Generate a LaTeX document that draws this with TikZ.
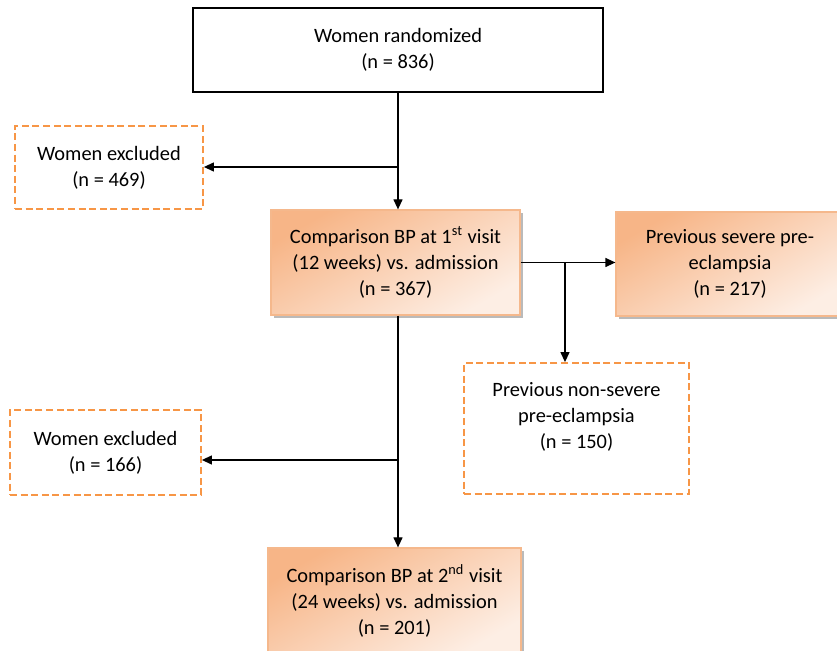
\documentclass[tikz,border=0pt]{standalone}
\usepackage{fontspec}
\setmainfont{Carlito}
\usetikzlibrary{arrows.meta,shadows}
\definecolor{peachdark}{HTML}{F7B587}
\definecolor{peachlight}{HTML}{FDEEE4}
\definecolor{peachline}{HTML}{F5B88C}
\definecolor{dashorange}{HTML}{F79646}
\tikzset{
  flowbox/.style={rectangle, align=center, inner sep=0pt,
    font=\fontsize{10.2}{13}\selectfont},
  plainbox/.style={flowbox, draw=black, line width=0.6pt},
  dashbox/.style={flowbox, draw=dashorange, line width=0.9pt,
    dash pattern=on 3.5pt off 1.8pt},
  shadebox/.style={flowbox, draw=peachline, line width=0.6pt,
    left color=peachdark, right color=peachlight, shading angle=30,
    drop shadow={shadow xshift=1.5pt, shadow yshift=-1.5pt, fill=black!45, opacity=0.6}},
  arr/.style={-{Triangle[length=5pt,width=4.5pt]}, line width=0.6pt},
}

\begin{document}
\begin{tikzpicture}[x=0.5pt,y=-0.5pt]
\useasboundingbox (0,0) rectangle (837,651);

% boxes
\node[plainbox, minimum width=205pt, minimum height=42pt] (rand) at (398,50)
  {Women randomized\\(n = 836)};
\node[dashbox, minimum width=94pt, minimum height=41.5pt] (exc1) at (109,167.5)
  {Women excluded\\(n = 469)};
\node[shadebox, minimum width=124.5pt, minimum height=52.5pt] (comp1) at (395.5,262.5)
  {Comparison BP at 1\textsuperscript{st} visit\\(12 weeks) vs. admission\\(n = 367)};
\node[shadebox, minimum width=114pt, minimum height=52pt] (severe) at (730,264)
  {Previous severe pre-\\eclampsia\\(n = 217)};
\node[dashbox, minimum width=112.5pt, minimum height=65.5pt] (nonsev) at (576.5,428.5)
  {Previous non-severe\\pre-eclampsia\\(n = 150)\\\mbox{}};
\node[dashbox, minimum width=95.5pt, minimum height=42.5pt] (exc2) at (105.5,452.5)
  {Women excluded\\(n = 166)};
\node[shadebox, minimum width=126.5pt, minimum height=53pt] (comp2) at (394.5,601)
  {Comparison BP at 2\textsuperscript{nd} visit\\(24 weeks) vs. admission\\(n = 201)};

% branch points
\coordinate (b1) at (398,167);
\coordinate (b2) at (565,262.5);
\coordinate (b3) at (398,460);

% connectors
\draw[arr] (rand.south) -- (rand.south |- comp1.north);
\draw[arr] (b1) -- (b1 -| exc1.east);
\draw[arr] (comp1.east) -- (comp1.east -| severe.west);
\draw[arr] (b2) -- (b2 |- nonsev.north);
\draw[arr] (comp1.south -| b3) -- (b3 |- comp2.north);
\draw[arr] (b3) -- (b3 -| exc2.east);
\end{tikzpicture}
\end{document}
